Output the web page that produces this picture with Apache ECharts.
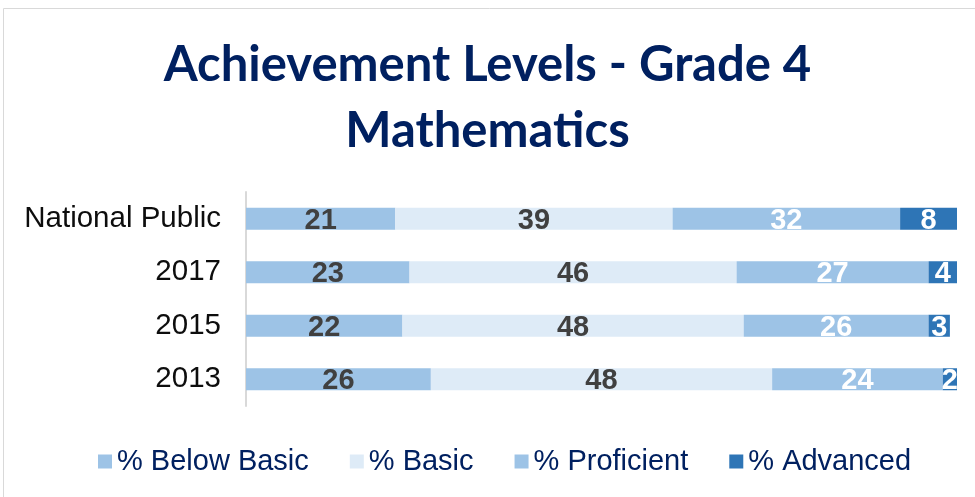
<!DOCTYPE html>
<html>
<head>
<meta charset="utf-8">
<script src="https://cdn.jsdelivr.net/npm/echarts@6/dist/echarts.min.js"></script>
<style>
    html, body { margin: 0; padding: 0; background: #fff; }
    #achievement-chart { width: 975px; height: 497px; }
</style>
</head>
<body>
<div id="achievement-chart"></div>
<script>
    // categories, top to bottom
    const groups = ["National Public", "2017", "2015", "2013"];
    const belowBasic = [21, 23, 22, 26];
    const basic = [39, 46, 48, 48];
    const proficient = [32, 27, 26, 24];
    const advanced = [8, 4, 3, 2];

    const chart = echarts.init(document.getElementById("achievement-chart"));

    function barSeries(name, data, color, labelColor) {
        return {
            name: name,
            type: "bar",
            stack: "total",
            barWidth: 22,
            data: data,
            itemStyle: { color: color },
            label: {
                show: true,
                position: "inside",
                offset: [0, 2],
                color: labelColor,
                fontFamily: "Liberation Sans, Arial",
                fontWeight: "bold",
                fontSize: 29
            }
        };
    }

    chart.setOption({
        animation: false,
        title: {
            text: "Achievement Levels - Grade 4\nMathematics",
            left: "center",
            top: 27,
            textStyle: {
                fontFamily: "Lato",
                fontWeight: "bold",
                fontSize: 49,
                lineHeight: 66,
                color: "#002060"
            }
        },
        graphic: [{
            type: "rect",
            shape: { x: 3.5, y: 8.5, width: 1200, height: 800 },
            style: { fill: "none", stroke: "#d9d9d9", lineWidth: 1 },
            silent: true
        }],
        legend: {
            bottom: 16,
            left: 93,
            itemWidth: 14,
            itemHeight: 14,
            itemGap: 41,
            icon: "rect",
            textStyle: {
                fontFamily: "Liberation Sans, Arial",
                fontSize: 29,
                color: "#002060"
            },
            data: ["% Below Basic", "% Basic", "% Proficient", "% Advanced"]
        },
        grid: {
            left: 246,
            right: 18,
            top: 192,
            bottom: 91
        },
        xAxis: {
            type: "value",
            min: 0,
            max: 100,
            show: false
        },
        yAxis: {
            type: "category",
            inverse: true,
            data: groups,
            axisLine: { show: true, lineStyle: { color: "#d9d9d9", width: 2 } },
            axisTick: { show: false },
            axisLabel: {
                margin: 25,
                fontFamily: "Liberation Sans, Arial",
                fontSize: 29.5,
                color: "#0d0d0d"
            }
        },
        series: [
            barSeries("% Below Basic", belowBasic, "#9dc3e6", "#404040"),
            barSeries("% Basic", basic, "#deebf7", "#404040"),
            barSeries("% Proficient", proficient, "#9dc3e6", "#ffffff"),
            barSeries("% Advanced", advanced, "#2e75b6", "#ffffff")
        ]
    });
</script>
</body>
</html>
